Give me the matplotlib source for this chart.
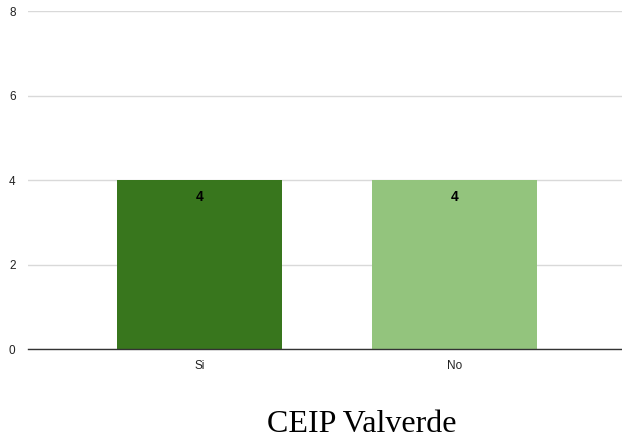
import matplotlib
matplotlib.use("Agg")
import matplotlib.pyplot as plt

categories = ["Si", "No"]
values = [4, 4]
colors = ["#38761d", "#93c47d"]
yticks = [0, 2, 4, 6, 8]
title = "CEIP Valverde"

fig = plt.figure(figsize=(6.22, 4.46), dpi=100)
ax = fig.add_axes([28/622, 1-349/446, 1-28/622, (349-11)/446])
x = list(range(len(categories)))
ax.bar(x, values, width=0.647, color=colors, zorder=3)
ax.set_xlim(-0.6725, 1.657)
ax.set_ylim(0, 8)
ax.set_yticks(yticks)
ax.set_xticks(x)
ax.set_xticklabels(categories, fontname="Liberation Sans", fontsize=8.5, color="#222222")
for lbl in ax.get_yticklabels():
    lbl.set_fontname("Liberation Sans")
    lbl.set_fontsize(8.5)
    lbl.set_color("#222222")
ax.tick_params(axis="both", length=0)
ax.tick_params(axis="y", pad=9)
ax.tick_params(axis="x", pad=8)
ax.grid(axis="y", color="#d9d9d9", linewidth=1, zorder=0)
for s in ["top", "right", "left"]:
    ax.spines[s].set_visible(False)
ax.spines["bottom"].set_color("#333333")
ax.spines["bottom"].set_linewidth(1)
ax.spines["bottom"].set_zorder(4)
for xi, v in zip(x, values):
    ax.annotate(str(v), (xi, v), xytext=(0, -12.5), textcoords="offset points",
                ha="center", va="center", fontname="Liberation Sans",
                fontsize=10, fontweight="bold", color="#000000", zorder=5)
fig.text(362/622, 1-424/446, title, ha="center", va="center",
         fontname="Liberation Serif", fontsize=23, color="#000000")
fig.savefig("out.png", dpi=100)
